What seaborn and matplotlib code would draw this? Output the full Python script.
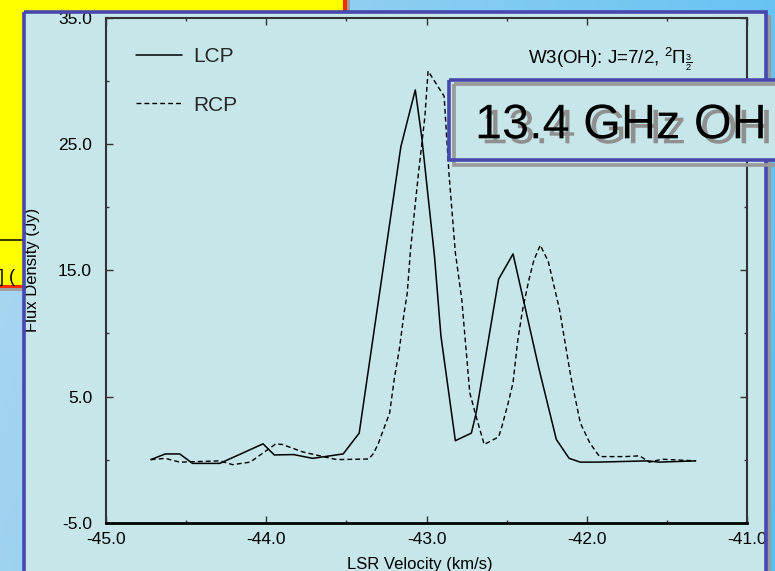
import numpy as np
import matplotlib
matplotlib.use("Agg")
import matplotlib.pyplot as plt
import matplotlib.patheffects as pe
from matplotlib.patches import Rectangle
from matplotlib.ticker import MultipleLocator
import seaborn as sns

# Left-circular polarisation spectrum (km/s, Jy)
lcp_velocity = [-44.72, -44.63, -44.54, -44.46, -44.29, -44.02, -43.95, -43.83,
                -43.71, -43.52, -43.42, -43.16, -43.07, -43.03, -42.95, -42.91,
                -42.82, -42.72, -42.69, -42.55, -42.46, -42.30, -42.19, -42.11,
                -42.04, -41.94, -41.62, -41.55, -41.32]
lcp_flux = [0.0, 0.45, 0.45, -0.3, -0.3, 1.25, 0.37, 0.4,
            0.1, 0.45, 2.1, 24.8, 29.3, 25.6, 16.1, 9.8,
            1.5, 2.1, 3.7, 14.3, 16.3, 7.3, 1.6, 0.1,
            -0.2, -0.2, -0.1, -0.2, -0.1]

# Right-circular polarisation spectrum (km/s, Jy)
rcp_velocity = [-44.72, -44.63, -44.54, -44.29, -44.21, -44.10, -43.99, -43.94,
                -43.90, -43.77, -43.69, -43.56, -43.36, -43.33, -43.30, -43.23,
                -43.20, -43.17, -43.14, -43.12, -43.10, -43.05, -43.01, -42.99,
                -42.89, -42.86, -42.82, -42.78, -42.73, -42.69, -42.64, -42.55,
                -42.53, -42.49, -42.46, -42.43, -42.40, -42.36, -42.33, -42.29,
                -42.24, -42.17, -42.10, -42.04, -41.98, -41.92, -41.76, -41.67,
                -41.61, -41.53, -41.32]
rcp_flux = [0.0, 0.1, -0.2, -0.1, -0.4, -0.2, 0.8, 1.25,
            1.2, 0.6, 0.37, 0.0, 0.05, 0.5, 1.3, 3.7,
            6.5, 8.7, 11.6, 13.2, 16.6, 22.7, 27.2, 30.8,
            28.8, 22.7, 16.4, 12.7, 5.3, 3.4, 1.2, 1.8,
            2.6, 4.5, 6.1, 9.5, 11.9, 14.3, 15.8, 17.0,
            15.7, 11.9, 6.6, 2.9, 1.3, 0.24, 0.24, 0.3,
            -0.2, 0.03, -0.1]

x_ticks = [-45.0, -44.0, -43.0, -42.0, -41.0]
x_tick_labels = ["-45.0", "-44.0", "-43.0", "-42.0", "-41.0"]
y_ticks = [-5.0, 5.0, 15.0, 25.0, 35.0]
y_tick_labels = ["-5.0", "5.0", "15.0", "25.0", "35.0"]

transition_label = r"W3(OH): J=7/2, ${}^{2}\Pi_{\frac{3}{2}}$"
heading = "13.4 GHz OH"
x_label = "LSR Velocity (km/s)"
y_label = "Flux Density (Jy)"

sns.set_theme(style="ticks")
plt.rcParams["font.family"] = ["Liberation Sans", "DejaVu Sans"]
plt.rcParams["mathtext.fontset"] = "custom"
plt.rcParams["mathtext.rm"] = "Liberation Sans"
plt.rcParams["mathtext.it"] = "Liberation Sans:italic"
plt.rcParams["mathtext.bf"] = "Liberation Sans:bold"

W, H = 775, 571
PANEL = "#c6e6e9"
BLUE = "#4747ad"
fig = plt.figure(figsize=(W / 100, H / 100), dpi=100)

# ---- slide background -------------------------------------------------
bg = fig.add_axes([0, 0, 1, 1], zorder=0)
bg.set_xlim(0, W)
bg.set_ylim(H, 0)
bg.axis("off")
gx, gy = np.meshgrid(np.linspace(0, 1, 256), np.linspace(0, 1, 256))
t = np.clip(0.8 * gx + 0.2 * gy, 0, 1)[..., None]
c0 = np.array([176, 216, 240]) / 255
c1 = np.array([86, 190, 244]) / 255
bg.imshow(c0 * (1 - t) + c1 * t, extent=(0, W, H, 0), aspect="auto", zorder=0)

# yellow block behind the panel
bg.add_patch(Rectangle((0, 0), 350, 291, fc="#a0a0a0", ec="none", zorder=1))
bg.add_patch(Rectangle((0, 0), 347, 288, fc="#ff2a00", ec="none", zorder=2))
bg.add_patch(Rectangle((0, 0), 343, 285, fc="#ffff00", ec="none", zorder=3))
bg.plot([0, 343], [239.5, 239.5], color="black", lw=1.1, zorder=4)
bg.text(-1, 282, "] (", fontsize=13, va="baseline", color="black", zorder=4)

# panel with drop shadow
bg.add_patch(Rectangle((28, 15), 743, 600, fc="#9a9a9a", ec="none", zorder=5))
bg.add_patch(Rectangle((24, 11.7), 741.5, 600, fc=PANEL, ec="none", zorder=6))

# ---- spectrum axes ------------------------------------------------------
ax = fig.add_axes([106 / W, 1 - 522.7 / H, 641 / W, 504.7 / H], zorder=2)
ax.set_facecolor("none")

sns.lineplot(x=lcp_velocity, y=lcp_flux, ax=ax, color="black", lw=1.1,
             label="LCP", sort=False, estimator=None)
sns.lineplot(x=rcp_velocity, y=rcp_flux, ax=ax, color="black", lw=1.0,
             linestyle=(0, (3.5, 2.2)), label="RCP", sort=False, estimator=None)

ax.set_xlim(-45, -41)
ax.set_ylim(-5, 35)
ax.set_xticks(x_ticks, x_tick_labels)
ax.set_yticks(y_ticks, y_tick_labels)
ax.xaxis.set_minor_locator(MultipleLocator(0.5))
ax.yaxis.set_minor_locator(MultipleLocator(5))
ax.tick_params(which="both", direction="in", top=True, right=True,
               color="#333333", labelcolor="black")
ax.tick_params(which="major", length=4.8, width=1.0, labelsize=12.5)
ax.tick_params(which="minor", length=2.5, width=1.0)
ax.tick_params(axis="x", pad=6.8)
ax.tick_params(axis="y", pad=10)
for side, sp in ax.spines.items():
    sp.set_visible(True)
    sp.set_color("#333333")
    sp.set_linewidth(1.5)
ax.spines["bottom"].set_color("black")
ax.spines["bottom"].set_linewidth(2.0)

ax.set_xlabel(x_label, fontsize=12, color="black")
ax.set_ylabel(y_label, fontsize=12, color="black")
ax.xaxis.set_label_coords(0.49, -0.068)
ax.yaxis.set_label_coords(-0.103, 0.5)

ax.legend(loc="upper left", bbox_to_anchor=(0.0468, 0.9426), frameon=False,
          fontsize=15, handlelength=2.2, handletextpad=0.55, labelspacing=1.43,
          borderpad=0, borderaxespad=0)

ax.text(0.658, 0.919, transition_label, transform=ax.transAxes, fontsize=13.5,
        ha="left", va="center", color="black")

# ---- overlay: panel border and heading box -----------------------------
ov = fig.add_axes([0, 0, 1, 1], zorder=3)
ov.set_xlim(0, W)
ov.set_ylim(H, 0)
ov.axis("off")
ov.patch.set_alpha(0)

ov.add_patch(Rectangle((24, 11.7), 741.5, 600, fc="none", ec=BLUE, lw=2.6))
ov.add_patch(Rectangle((449.2, 80.2), 400, 79.8, fc=PANEL, ec="none"))
ov.add_patch(Rectangle((453.8, 84.3), 400, 80.7, fc="none", ec="#999999", lw=2.6))
ov.add_patch(Rectangle((449.2, 80.2), 400, 79.8, fc="none", ec=BLUE, lw=2.6))
ov.text(475, 138.3, heading, fontsize=35, va="baseline", ha="left", color="black",
        path_effects=[pe.withSimplePatchShadow(offset=(4.3, -3.6),
                                               shadow_rgbFace="#8f8f8f", alpha=1.0)])

fig.savefig("out.png", dpi=100)
